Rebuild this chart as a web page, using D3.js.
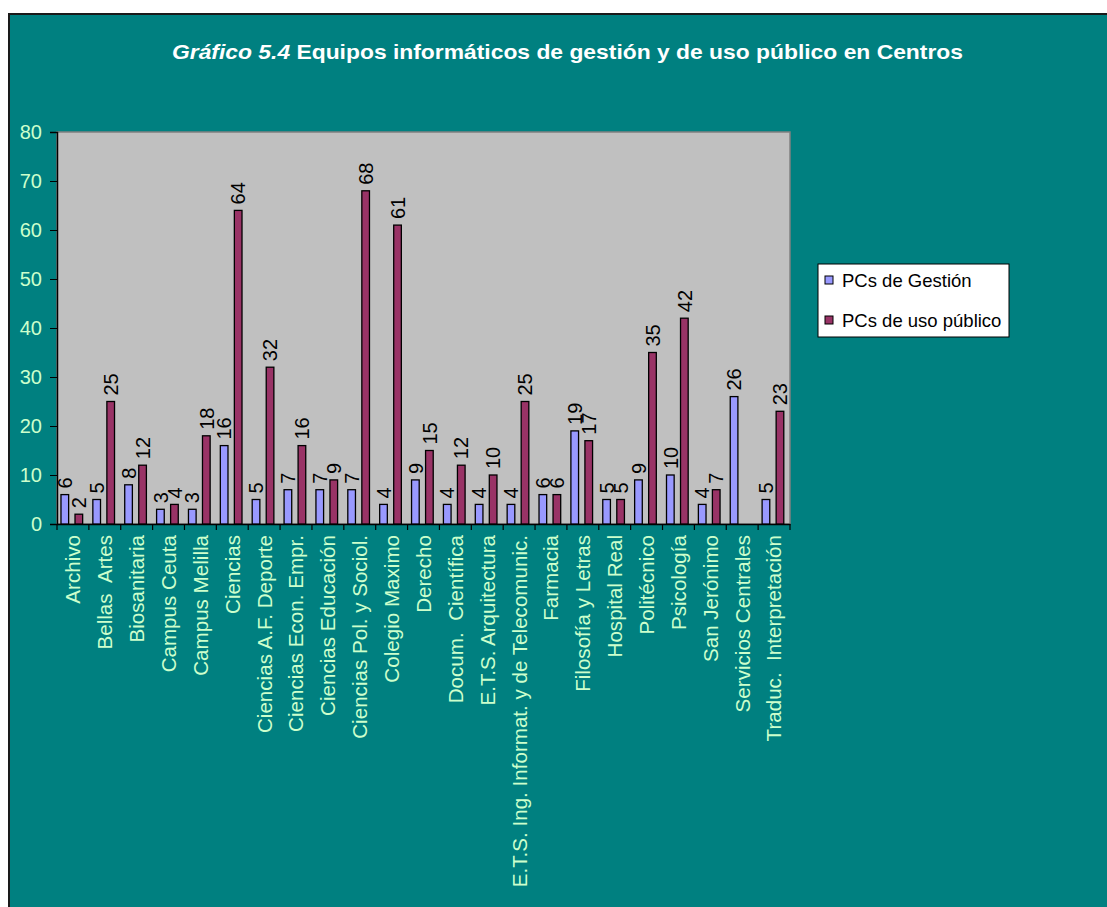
<!DOCTYPE html>
<html>
<head>
<meta charset="utf-8">
<script src="https://cdn.jsdelivr.net/npm/d3@7"></script>
<style>
  body { margin: 0; background: #fff; }
  text { font-family: Arial, 'Liberation Sans', sans-serif; }
</style>
</head>
<body>
<div id="chart"></div>
<script>
const categories = [
  'Archivo', 'Bellas  Artes', 'Biosanitaria', 'Campus Ceuta', 'Campus Melilla', 'Ciencias',
  'Ciencias A.F. Deporte', 'Ciencias Econ. Empr.', 'Ciencias Educación', 'Ciencias Pol. y Sociol.',
  'Colegio Maximo', 'Derecho', 'Docum.  Científica', 'E.T.S. Arquitectura',
  'E.T.S. Ing. Informat. y de Telecomunic.', 'Farmacia', 'Filosofía y Letras', 'Hospital Real',
  'Politécnico', 'Psicología', 'San Jerónimo', 'Servicios Centrales', 'Traduc.  Interpretación'
]
const pcsGestion = [6, 5, 8, 3, 3, 16, 5, 7, 7, 7, 4, 9, 4, 4, 4, 6, 19, 5, 9, 10, 4, 26, 5]
const pcsPublico = [2, 25, 12, 4, 18, 64, 32, 16, 9, 68, 61, 15, 12, 10, 25, 6, 17, 5, 35, 42, 7, null, 23]
const seriesNames = ['PCs de Gestión', 'PCs de uso público']
const yTicks = [0, 10, 20, 30, 40, 50, 60, 70, 80]

const palette = ['#9999FF', '#993366']
const labelColor = '#CCFFCC'
const width = 1107, height = 907

const svg = d3.select('#chart').append('svg')
  .attr('width', width).attr('height', height)

// chart area
svg.append('rect').attr('x', 9).attr('y', 14).attr('width', 1200).attr('height', 1000)
  .attr('fill', '#008080').attr('stroke', '#1a1a1a').attr('stroke-width', 2)

// title
const title = svg.append('text').attr('x', 172).attr('y', 59)
  .attr('fill', '#fff').attr('font-size', 21).attr('font-weight', 'bold')
  .attr('textLength', 791).attr('lengthAdjust', 'spacingAndGlyphs')
title.append('tspan').attr('font-style', 'italic').text('Gráfico 5.4')
title.append('tspan').text(' Equipos informáticos de gestión y de uso público en Centros')

const plot = { left: 57, right: 790, top: 132, bottom: 524 }

const x = d3.scaleBand().domain(categories).range([plot.left, plot.right])
const bw = x.bandwidth()
const x1 = d3.scaleBand().domain([0, 1]).range([bw * 0.125, bw * 0.805]).paddingInner(0.4545)
const y = d3.scaleLinear().domain([0, 80]).range([plot.bottom, plot.top])

svg.append('rect').attr('x', plot.left).attr('y', plot.top)
  .attr('width', plot.right - plot.left).attr('height', plot.bottom - plot.top)
  .attr('fill', '#C0C0C0').attr('stroke', '#808080').attr('stroke-width', 1.5)

// y axis
const yAxis = svg.append('g').attr('transform', `translate(${plot.left},0)`)
  .call(d3.axisLeft(y).tickValues(yTicks).tickSize(7).tickPadding(8))
yAxis.select('.domain').attr('stroke', '#000').attr('stroke-width', 1.5)
yAxis.selectAll('line').attr('stroke', '#000')
yAxis.selectAll('text').attr('fill', labelColor).attr('font-size', 20).attr('font-family', null)

// x axis
const xAxis = svg.append('g').attr('transform', `translate(0,${plot.bottom})`)
  .call(d3.axisBottom(x).tickSize(0).tickSizeOuter(0))
xAxis.select('.domain').attr('stroke', '#000').attr('stroke-width', 1.5)
xAxis.selectAll('text')
  .attr('fill', labelColor).attr('font-size', 20.6).attr('font-family', null)
  .attr('transform', 'rotate(-90)').attr('x', -11).attr('y', 0).attr('dy', '0.36em')
  .style('text-anchor', 'end').style('white-space', 'pre')
xAxis.selectAll('.bound').data([...categories.map((c) => x(c)), plot.right]).join('line')
  .attr('class', 'bound').attr('x1', (d) => d).attr('x2', (d) => d)
  .attr('y1', 0).attr('y2', 6).attr('stroke', '#000').attr('stroke-width', 1.2)

// bars
const rows = categories.map((c, i) => ({ cat: c, vals: [pcsGestion[i], pcsPublico[i]] }))
const groups = svg.selectAll('.grp').data(rows).join('g').attr('class', 'grp')
  .attr('transform', (d) => `translate(${x(d.cat)},0)`)
const cells = groups.selectAll('.cell')
  .data((d) => d.vals.map((v, s) => ({ v, s })).filter((e) => e.v != null))
  .join('g').attr('class', 'cell')
cells.append('rect')
  .attr('x', (d) => x1(d.s)).attr('width', x1.bandwidth())
  .attr('y', (d) => y(d.v)).attr('height', (d) => y(0) - y(d.v))
  .attr('fill', (d) => palette[d.s]).attr('stroke', '#000').attr('stroke-width', 1.3)
cells.append('text')
  .attr('transform', (d) => `translate(${x1(d.s) + x1.bandwidth() / 2},${y(d.v) - 6}) rotate(-90)`)
  .attr('dy', '0.36em').attr('font-size', 20).attr('fill', '#000')
  .text((d) => d.v)

// legend
const legend = svg.append('g').attr('transform', 'translate(818,264)')
legend.append('rect').attr('width', 191).attr('height', 73)
  .attr('fill', '#fff').attr('stroke', '#000').attr('stroke-width', 1)
const items = legend.selectAll('.item').data(seriesNames).join('g').attr('class', 'item')
  .attr('transform', (d, i) => `translate(7,${16 + i * 40})`)
items.append('rect').attr('x', 0).attr('y', -4).attr('width', 8).attr('height', 8)
  .attr('fill', (d, i) => palette[i]).attr('stroke', '#000').attr('stroke-width', 1)
items.append('text').attr('x', 17).attr('dy', '0.36em').attr('font-size', 18.5).attr('fill', '#000')
  .text((d) => d)
</script>
</body>
</html>
